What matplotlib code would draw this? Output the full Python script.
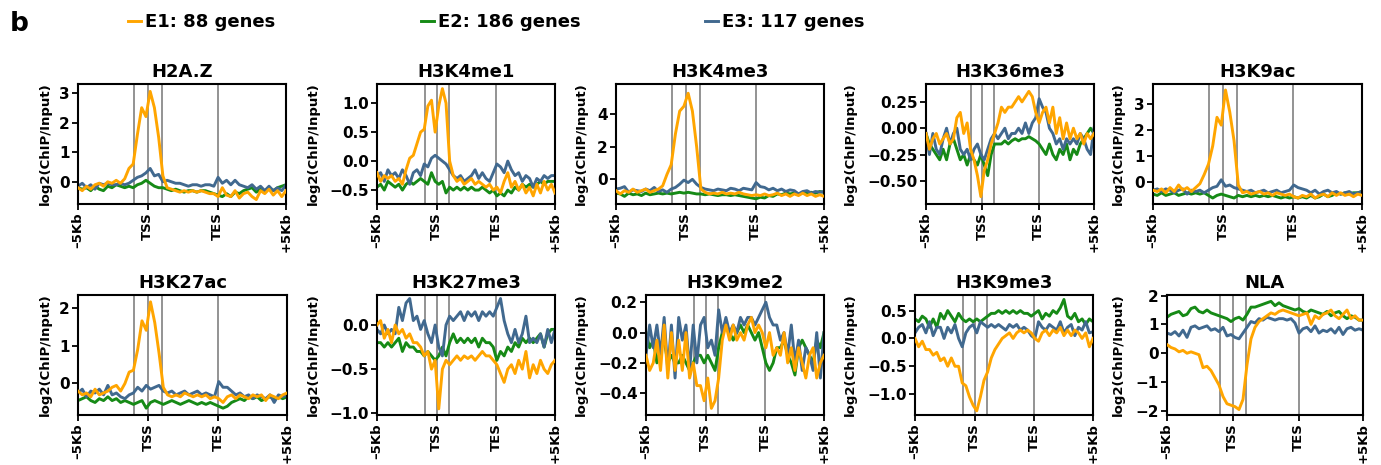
#importing the libraries
import numpy as np
import matplotlib
matplotlib.use('Agg')
import matplotlib.pyplot as plt
import matplotlib.transforms as mtransforms
from matplotlib.ticker import FuncFormatter

plt.rcParams['font.family'] = ['DejaVu Sans']
plt.rcParams['font.weight'] = 'bold'

# series names and colours
groups = ['E1: 88 genes', 'E2: 186 genes', 'E3: 117 genes']
colors = ['#FFA500', '#168A16', '#41698F']

# x axis: bins from -5Kb to +5Kb, TSS at 50, TES at 100
xtick_pos = [0, 50, 100, 149]
xtick_lab = ['\u20135Kb', 'TSS', 'TES', '+5Kb']
vlines = [40, 50, 60, 100]

# ---- profile values (50 points each) ----
h2az_e1 = [-0.2, -0.3, -0.15, -0.25, -0.1, -0.05, -0.15, 0.0, -0.05, 0.05,
           -0.05, 0.1, 0.45, 0.6, 1.6, 2.5, 2.2, 3.05, 2.5, 1.5,
           0.2, -0.2, -0.25, -0.3, -0.35, -0.3, -0.35, -0.3, -0.35, -0.3,
           -0.35, -0.4, -0.4, -0.5, -0.2, -0.45, -0.5, -0.3, -0.55, -0.4,
           -0.35, -0.5, -0.6, -0.3, -0.4, -0.25, -0.45, -0.3, -0.5, -0.3]
h2az_e2 = [-0.2, -0.25, -0.2, -0.3, -0.15, -0.25, -0.3, -0.15, -0.2, -0.1,
           -0.15, -0.2, -0.15, -0.2, -0.1, -0.05, 0.05, -0.05, -0.15, -0.2,
           -0.2, -0.25, -0.3, -0.25, -0.3, -0.35, -0.3, -0.3, -0.35, -0.3,
           -0.3, -0.35, -0.4, -0.45, -0.5, -0.4, -0.5, -0.35, -0.4, -0.3,
           -0.25, -0.2, -0.35, -0.25, -0.3, -0.2, -0.3, -0.2, -0.15, -0.1]
h2az_e3 = [-0.15, -0.05, -0.2, -0.1, -0.25, -0.05, -0.1, -0.05, -0.1, -0.1,
           -0.05, -0.1, -0.05, 0.05, 0.15, 0.2, 0.3, 0.45, 0.2, 0.25,
           0.0, 0.05, 0.0, -0.05, -0.05, -0.1, -0.15, -0.1, -0.1, -0.15,
           -0.1, -0.1, -0.15, 0.15, -0.05, 0.05, -0.1, 0.05, -0.1, -0.15,
           -0.2, -0.1, -0.25, -0.15, -0.3, -0.15, -0.3, -0.2, -0.3, -0.1]

k4me1_e1 = [-0.2, -0.35, -0.25, -0.3, -0.25, -0.35, -0.3, -0.4, -0.15, 0.05,
            0.1, 0.3, 0.5, 0.55, 0.95, 1.05, 0.5, 0.95, 1.25, 1.0,
            0.0, -0.25, -0.35, -0.3, -0.4, -0.35, -0.3, -0.4, -0.35, -0.4,
            -0.45, -0.4, -0.5, -0.45, -0.55, -0.35, -0.2, -0.45, -0.35, -0.5,
            -0.4, -0.55, -0.45, -0.6, -0.4, -0.55, -0.35, -0.5, -0.4, -0.55]
k4me1_e2 = [-0.45, -0.4, -0.5, -0.35, -0.4, -0.45, -0.4, -0.5, -0.4, -0.35,
            -0.4, -0.35, -0.3, -0.35, -0.4, -0.2, -0.35, -0.4, -0.35, -0.55,
            -0.45, -0.5, -0.45, -0.5, -0.45, -0.5, -0.45, -0.5, -0.5, -0.45,
            -0.5, -0.55, -0.5, -0.6, -0.55, -0.6, -0.5, -0.55, -0.45, -0.5,
            -0.4, -0.45, -0.4, -0.45, -0.4, -0.35, -0.4, -0.35, -0.35, -0.35]
k4me1_e3 = [-0.25, -0.2, -0.35, -0.15, -0.25, -0.2, -0.3, -0.15, -0.25, -0.4,
            -0.2, -0.15, -0.25, -0.05, -0.1, 0.05, 0.1, 0.05, 0.0, -0.05,
            -0.15, -0.25, -0.3, -0.25, -0.35, -0.3, -0.25, -0.15, -0.3, -0.2,
            -0.3, -0.35, -0.2, -0.05, -0.1, -0.2, 0.0, -0.15, -0.25, -0.2,
            -0.35, -0.25, -0.3, -0.45, -0.3, -0.35, -0.25, -0.3, -0.25, -0.25]

k4me3_e1 = [-0.7, -0.9, -0.7, -0.8, -0.6, -0.8, -0.7, -0.6, -0.8, -0.7,
            -0.6, -0.4, 0.3, 0.9, 2.8, 4.2, 4.5, 5.3, 4.2, 2.0,
            -0.6, -0.8, -0.9, -0.85, -0.9, -0.8, -0.9, -0.85, -0.9, -0.8,
            -0.9, -0.95, -1.0, -0.95, -1.0, -0.9, -1.0, -0.95, -0.85, -1.0,
            -0.9, -1.05, -0.9, -1.0, -0.85, -1.0, -0.9, -1.05, -0.95, -1.05]
k4me3_e2 = [-0.85, -0.9, -1.05, -0.85, -0.95, -0.9, -1.0, -0.85, -0.95, -0.9,
            -0.85, -0.9, -0.85, -0.9, -0.85, -0.8, -0.85, -0.8, -0.85, -0.9,
            -0.9, -0.95, -0.9, -0.95, -1.0, -0.95, -0.95, -1.0, -0.95, -1.0,
            -1.05, -1.1, -1.15, -1.2, -1.1, -1.15, -1.0, -1.05, -0.9, -0.95,
            -0.85, -0.9, -0.85, -0.95, -0.8, -0.85, -0.8, -0.85, -0.75, -0.8]
k4me3_e3 = [-0.6, -0.55, -0.45, -0.8, -0.65, -0.7, -0.75, -0.6, -0.7, -0.5,
            -0.75, -0.65, -0.8, -0.6, -0.5, -0.3, -0.05, -0.2, 0.0, -0.3,
            -0.5, -0.6, -0.65, -0.7, -0.6, -0.65, -0.7, -0.55, -0.6, -0.7,
            -0.55, -0.6, -0.65, -0.2, -0.45, -0.5, -0.65, -0.55, -0.7, -0.6,
            -0.75, -0.65, -0.7, -0.9, -0.75, -0.7, -0.85, -0.75, -0.8, -0.75]

k36me3_e1 = [-0.05, -0.2, -0.1, -0.05, -0.15, -0.1, -0.05, -0.15, -0.1, 0.1,
             0.15, -0.05, 0.05, -0.2, -0.3, -0.45, -0.65, -0.4, -0.3, -0.15,
             -0.05, 0.05, 0.2, 0.15, 0.2, 0.2, 0.25, 0.3, 0.25, 0.3,
             0.35, 0.3, 0.15, 0.05, 0.15, 0.2, 0.05, 0.2, -0.05, 0.1,
             -0.1, 0.05, -0.1, 0.0, -0.1, -0.05, -0.15, -0.05, -0.1, -0.05]
k36me3_e2 = [-0.05, -0.15, -0.2, -0.25, -0.3, -0.2, -0.3, -0.15, -0.1, -0.2,
             -0.3, -0.25, -0.35, -0.25, -0.3, -0.35, -0.25, -0.35, -0.45, -0.25,
             -0.15, -0.15, -0.15, -0.12, -0.15, -0.12, -0.1, -0.12, -0.1, -0.1,
             -0.08, -0.1, -0.12, -0.15, -0.2, -0.25, -0.15, -0.25, -0.3, -0.2,
             -0.25, -0.15, -0.3, -0.2, -0.25, -0.15, -0.1, -0.05, 0.0, -0.05]
k36me3_e3 = [-0.05, -0.25, -0.05, -0.2, -0.25, -0.1, 0.0, -0.15, -0.05, 0.0,
             -0.2, -0.25, -0.2, -0.3, -0.2, -0.15, -0.25, -0.3, -0.2, -0.1,
             -0.05, -0.1, -0.05, 0.0, -0.1, -0.05, -0.05, 0.0, -0.05, 0.05,
             -0.05, 0.05, 0.1, 0.28, 0.2, 0.15, 0.0, -0.05, -0.15, -0.1,
             -0.2, -0.1, -0.15, -0.1, -0.15, -0.05, -0.1, -0.2, -0.25, 0.0]

k9ac_e1 = [-0.3, -0.35, -0.25, -0.4, -0.2, -0.35, -0.1, -0.3, -0.2, -0.35,
           -0.2, -0.05, 0.3, 0.7, 1.4, 2.5, 2.2, 3.55, 2.7, 1.6,
           -0.1, -0.4, -0.35, -0.45, -0.4, -0.35, -0.45, -0.4, -0.5, -0.4,
           -0.45, -0.5, -0.45, -0.55, -0.6, -0.5, -0.55, -0.45, -0.6, -0.5,
           -0.45, -0.55, -0.4, -0.5, -0.4, -0.5, -0.45, -0.55, -0.45, -0.5]
k9ac_e2 = [-0.45, -0.5, -0.4, -0.5, -0.45, -0.4, -0.5, -0.45, -0.4, -0.45,
           -0.4, -0.45, -0.4, -0.5, -0.6, -0.5, -0.45, -0.5, -0.55, -0.6,
           -0.5, -0.55, -0.5, -0.55, -0.5, -0.55, -0.5, -0.55, -0.5, -0.55,
           -0.6, -0.55, -0.6, -0.55, -0.6, -0.55, -0.6, -0.5, -0.6, -0.55,
           -0.45, -0.55, -0.5, -0.4, -0.45, -0.4, -0.45, -0.4, -0.4, -0.35]
k9ac_e3 = [-0.3, -0.25, -0.35, -0.25, -0.3, -0.4, -0.3, -0.25, -0.45, -0.3,
           -0.35, -0.3, -0.4, -0.3, -0.2, -0.15, 0.1, -0.15, -0.1, -0.2,
           -0.25, -0.3, -0.35, -0.3, -0.4, -0.35, -0.3, -0.4, -0.35, -0.3,
           -0.4, -0.35, -0.3, -0.1, -0.2, -0.25, -0.3, -0.4, -0.3, -0.45,
           -0.35, -0.3, -0.4, -0.35, -0.45, -0.4, -0.35, -0.45, -0.4, -0.35]

k27ac_e1 = [-0.2, -0.3, -0.25, -0.35, -0.15, -0.3, -0.25, -0.2, -0.1, -0.05,
            -0.2, 0.0, 0.3, 0.35, 0.9, 1.65, 1.4, 2.15, 1.6, 0.8,
            -0.1, -0.3, -0.35, -0.3, -0.35, -0.25, -0.3, -0.35, -0.3, -0.35,
            -0.3, -0.4, -0.35, -0.4, -0.5, -0.35, -0.3, -0.4, -0.3, -0.35,
            -0.4, -0.3, -0.35, -0.3, -0.45, -0.3, -0.35, -0.4, -0.3, -0.25]
k27ac_e2 = [-0.45, -0.4, -0.35, -0.45, -0.5, -0.4, -0.45, -0.35, -0.45, -0.4,
            -0.5, -0.45, -0.5, -0.55, -0.5, -0.45, -0.65, -0.5, -0.45, -0.5,
            -0.55, -0.5, -0.45, -0.5, -0.55, -0.5, -0.45, -0.5, -0.55, -0.5,
            -0.55, -0.5, -0.55, -0.6, -0.65, -0.6, -0.5, -0.45, -0.4, -0.45,
            -0.35, -0.4, -0.35, -0.45, -0.4, -0.35, -0.4, -0.35, -0.4, -0.35]
k27ac_e3 = [-0.25, -0.15, -0.35, -0.2, -0.25, -0.15, -0.3, -0.05, -0.3, -0.25,
            -0.35, -0.4, -0.3, -0.25, -0.1, -0.2, -0.05, -0.15, -0.1, -0.05,
            -0.2, -0.25, -0.2, -0.3, -0.25, -0.2, -0.3, -0.25, -0.2, -0.3,
            -0.25, -0.3, -0.35, 0.05, -0.1, -0.1, -0.2, -0.3, -0.25, -0.35,
            -0.3, -0.4, -0.3, -0.35, -0.4, -0.3, -0.5, -0.3, -0.35, -0.3]

k27me3_e1 = [0.0, 0.05, -0.15, -0.05, -0.2, 0.0, -0.1, -0.05, -0.15, -0.1,
             -0.2, -0.2, -0.25, -0.35, -0.3, -0.5, -0.4, -0.95, -0.5, -0.4,
             -0.45, -0.4, -0.35, -0.4, -0.35, -0.38, -0.35, -0.4, -0.35, -0.3,
             -0.35, -0.35, -0.4, -0.45, -0.55, -0.65, -0.5, -0.45, -0.55, -0.4,
             -0.5, -0.3, -0.6, -0.45, -0.55, -0.4, -0.5, -0.55, -0.45, -0.4]
k27me3_e2 = [-0.2, -0.2, -0.25, -0.2, -0.25, -0.2, -0.15, -0.3, -0.2, -0.25,
             -0.25, -0.3, -0.3, -0.35, -0.3, -0.35, -0.4, -0.35, -0.25, -0.35,
             -0.2, -0.1, -0.2, -0.15, -0.2, -0.15, -0.2, -0.15, -0.25, -0.15,
             -0.2, -0.2, -0.25, -0.4, -0.3, -0.35, -0.25, -0.3, -0.2, -0.25,
             -0.15, -0.2, -0.15, -0.2, -0.15, -0.1, -0.25, -0.1, -0.05, -0.05]
k27me3_e3 = [-0.05, -0.1, 0.0, -0.1, -0.05, -0.1, 0.2, 0.05, 0.25, 0.3,
             0.05, 0.1, -0.05, 0.05, -0.1, -0.2, 0.0, -0.25, -0.35, 0.0,
             0.1, 0.05, 0.1, 0.15, 0.05, 0.15, 0.1, 0.15, 0.05, 0.15,
             0.1, 0.15, 0.1, 0.2, 0.3, 0.05, -0.1, -0.2, -0.05, -0.2,
             -0.1, 0.1, -0.2, -0.15, -0.2, -0.1, -0.25, -0.05, -0.2, -0.05]

k9me2_e1 = [-0.15, -0.25, -0.2, -0.05, -0.25, 0.05, -0.3, 0.0, -0.25, -0.05,
            -0.25, 0.0, -0.3, -0.2, -0.35, -0.35, -0.45, -0.3, -0.5, -0.45,
            -0.3, -0.05, 0.05, -0.05, 0.05, -0.05, 0.0, -0.05, 0.05, 0.1,
            0.0, 0.05, 0.0, -0.1, 0.0, -0.15, -0.1, -0.15, 0.0, -0.2,
            -0.1, -0.25, -0.1, -0.2, -0.3, -0.15, -0.1, -0.3, -0.2, -0.15]
k9me2_e2 = [0.0, -0.1, -0.05, -0.2, -0.1, -0.05, -0.2, -0.15, -0.2, -0.2,
            -0.15, -0.2, -0.25, -0.2, -0.15, -0.15, -0.2, -0.15, -0.2, -0.25,
            -0.1, 0.0, 0.05, 0.0, -0.05, 0.0, 0.05, 0.0, 0.05, 0.0,
            -0.05, 0.0, -0.1, -0.2, -0.25, -0.2, -0.1, -0.1, -0.05, -0.15,
            -0.2, -0.28, -0.1, -0.05, -0.1, -0.15, -0.2, -0.05, -0.1, 0.0]
k9me2_e3 = [-0.15, 0.05, -0.1, 0.05, -0.15, 0.1, -0.25, 0.05, -0.3, 0.1,
            -0.05, 0.05, -0.25, 0.05, -0.2, 0.05, 0.1, -0.1, -0.05, -0.15,
            0.15, 0.0, 0.1, 0.0, 0.05, 0.0, 0.1, 0.05, 0.1, 0.1,
            0.05, 0.1, 0.15, 0.2, 0.1, 0.05, 0.05, -0.05, 0.0, -0.15,
            0.05, -0.2, -0.05, -0.25, -0.1, -0.15, -0.25, 0.0, -0.3, 0.0]

k9me3_e1 = [0.0, -0.15, -0.05, -0.2, -0.2, -0.3, -0.25, -0.4, -0.35, -0.5,
            -0.35, -0.5, -0.5, -0.8, -0.85, -1.05, -1.2, -1.3, -1.05, -0.75,
            -0.6, -0.35, -0.2, -0.1, 0.0, 0.05, 0.1, 0.0, 0.1, 0.15,
            0.1, 0.15, 0.1, 0.0, -0.05, 0.1, 0.15, 0.05, 0.15, 0.1,
            0.2, 0.05, 0.15, 0.05, 0.15, 0.1, 0.0, 0.1, -0.15, 0.0]
k9me3_e2 = [0.35, 0.3, 0.4, 0.35, 0.2, 0.35, 0.2, 0.45, 0.35, 0.5,
            0.4, 0.3, 0.45, 0.35, 0.3, 0.35, 0.3, 0.35, 0.3, 0.35,
            0.4, 0.45, 0.45, 0.5, 0.45, 0.5, 0.45, 0.5, 0.45, 0.5,
            0.45, 0.45, 0.4, 0.45, 0.5, 0.35, 0.45, 0.4, 0.5, 0.45,
            0.55, 0.7, 0.4, 0.35, 0.45, 0.3, 0.35, 0.25, 0.35, 0.3]
k9me3_e3 = [0.1, 0.2, 0.25, 0.1, 0.3, 0.05, 0.2, 0.2, 0.0, 0.2,
            0.1, 0.25, 0.0, -0.15, 0.1, 0.2, 0.25, 0.1, 0.3, 0.25,
            0.2, 0.25, 0.2, 0.25, 0.2, 0.15, 0.25, 0.2, 0.25, 0.15,
            0.2, 0.15, 0.05, 0.0, 0.3, 0.2, 0.15, 0.25, 0.2, 0.15,
            0.3, 0.1, 0.2, 0.25, 0.05, 0.2, 0.15, 0.3, 0.1, 0.12]

nla_e1 = [0.3, 0.2, 0.15, 0.05, 0.1, 0.0, 0.05, 0.0, -0.05, -0.5,
          -0.45, -0.6, -0.85, -1.1, -1.5, -1.75, -1.8, -1.85, -1.95, -1.6,
          -0.4, 0.5, 0.9, 1.1, 1.2, 1.3, 1.4, 1.35, 1.45, 1.5,
          1.45, 1.4, 1.35, 1.3, 1.35, 1.4, 1.0, 1.3, 1.2, 1.35,
          1.4, 1.5, 1.3, 1.2, 1.35, 1.5, 1.2, 1.3, 1.15, 1.15]
nla_e2 = [1.25, 1.35, 1.4, 1.45, 1.3, 1.35, 1.55, 1.6, 1.45, 1.4,
          1.5, 1.4, 1.35, 1.3, 1.25, 1.2, 1.1, 1.2, 1.25, 1.15,
          1.35, 1.6, 1.6, 1.65, 1.7, 1.75, 1.8, 1.65, 1.75, 1.65,
          1.6, 1.55, 1.5, 1.55, 1.45, 1.4, 1.5, 1.45, 1.4, 1.35,
          1.45, 1.3, 1.4, 1.45, 1.3, 1.2, 1.3, 1.25, 1.15, 1.15]
nla_e3 = [0.7, 0.65, 0.75, 0.6, 0.8, 0.55, 0.9, 0.95, 0.85, 0.9,
          0.95, 0.8, 0.85, 0.75, 0.9, 0.6, 0.65, 0.55, 0.5, 0.7,
          0.9, 1.1, 1.05, 1.2, 1.15, 1.25, 1.2, 1.15, 1.2, 1.2,
          1.15, 1.2, 1.05, 0.7, 0.85, 0.9, 0.75, 0.95, 0.7, 0.8,
          0.75, 0.85, 0.7, 0.9, 0.65, 0.85, 0.9, 0.8, 0.85, 0.8]

marks = ['H2A.Z', 'H3K4me1', 'H3K4me3', 'H3K36me3', 'H3K9ac',
         'H3K27ac', 'H3K27me3', 'H3K9me2', 'H3K9me3', 'NLA']
profiles = [(h2az_e1, h2az_e2, h2az_e3), (k4me1_e1, k4me1_e2, k4me1_e3),
            (k4me3_e1, k4me3_e2, k4me3_e3), (k36me3_e1, k36me3_e2, k36me3_e3),
            (k9ac_e1, k9ac_e2, k9ac_e3), (k27ac_e1, k27ac_e2, k27ac_e3),
            (k27me3_e1, k27me3_e2, k27me3_e3), (k9me2_e1, k9me2_e2, k9me2_e3),
            (k9me3_e1, k9me3_e2, k9me3_e3), (nla_e1, nla_e2, nla_e3)]
yticks = [[0, 1, 2, 3], [-0.5, 0, 0.5, 1.0], [0, 2, 4], [-0.5, -0.25, 0, 0.25],
          [0, 1, 2, 3], [0, 1, 2], [-1.0, -0.5, 0.0], [-0.4, -0.2, 0.0, 0.2],
          [-1.0, -0.5, 0.0, 0.5], [-2, -1, 0, 1, 2]]
ylims = [(-0.75, 3.3), (-0.74, 1.33), (-1.52, 5.87), (-0.72, 0.42),
         (-0.83, 3.78), (-0.83, 2.33), (-1.02, 0.34), (-0.544, 0.248),
         (-1.375, 0.78), (-2.14, 2.02)]
decimals = [0, 1, 0, 2, 0, 0, 1, 1, 1, 0]

# layout in pixels (left, right) for each panel, rows (top, bottom)
W, H = 1381, 465
lefts = [78, 377, 616, 926, 1153, 78, 377, 646, 915, 1167]
rights = [286, 555, 824, 1094, 1362, 287, 555, 824, 1093, 1363]
rows = [(84, 204), (295, 415)]
label_x = [52, 320, 588, 857, 1125]

fig = plt.figure(figsize=(W / 100, H / 100), dpi=100)
x = np.linspace(0, 149, 50)


def fmt_maker(nd):
    # tick labels with a real minus sign
    return FuncFormatter(lambda v, p: ('%.*f' % (nd, v)).replace('-', '\u2212'))


lines = []
for k in range(10):
    top, bottom = rows[k // 5]
    ax = fig.add_axes([lefts[k] / W, 1 - bottom / H,
                       (rights[k] - lefts[k]) / W, (bottom - top) / H])
    # TSS / TES guide lines
    for v in vlines:
        ax.axvline(v, color='#8a8a8a', lw=1.3, zorder=1)
    for j in range(3):
        ln, = ax.plot(x, profiles[k][j], color=colors[j], lw=2.1,
                      zorder=3 if j == 0 else 2, label=groups[j])
        if k == 0:
            lines.append(ln)
    ax.set_xlim(0, 149)
    ax.set_ylim(*ylims[k])
    ax.set_xticks(xtick_pos)
    ax.set_xticklabels(xtick_lab, rotation=90, fontsize=9.5, fontweight='bold')
    ax.set_yticks(yticks[k])
    ax.yaxis.set_major_formatter(fmt_maker(decimals[k]))
    ax.tick_params(axis='y', labelsize=11, width=1.3, length=4, pad=2)
    ax.tick_params(axis='x', width=1.3, length=4, pad=2)
    for s in ax.spines.values():
        s.set_linewidth(1.5)
    ax.set_title(marks[k], fontsize=13, fontweight='bold', pad=5)
    ax.set_ylabel('log2(ChIP/Input)', fontsize=9.5, fontweight='bold')
    tr = mtransforms.blended_transform_factory(fig.transFigure, ax.transAxes)
    ax.yaxis.set_label_coords(label_x[k % 5] / W, 0.5, transform=tr)

# legend entries across the top
leg_x = [128, 421, 705]
for j in range(3):
    lg = fig.legend([lines[j]], [groups[j]], loc='center left',
                    bbox_to_anchor=(leg_x[j] / W, 1 - 22 / H), frameon=False,
                    fontsize=13, handlelength=0.7, handletextpad=0.25,
                    borderpad=0, borderaxespad=0)
    for t in lg.get_texts():
        t.set_fontweight('bold')

fig.text(10 / W, 1 - 24 / H, 'b', fontsize=19, fontweight='bold', va='center')

fig.savefig('out.png', dpi=100)
